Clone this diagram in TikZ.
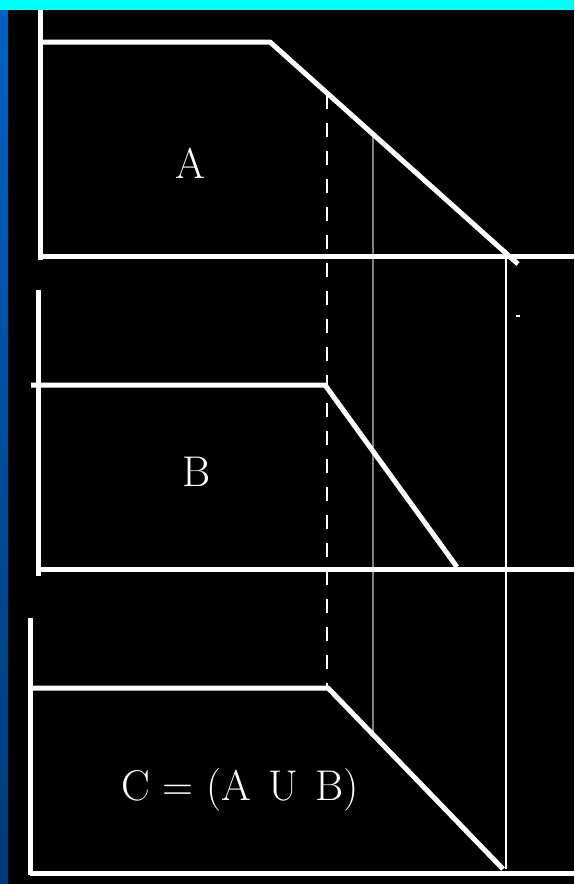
\documentclass[tikz,border=0pt]{standalone}
\usepackage{tikz}
\usetikzlibrary{positioning, calc}
\definecolor{barcyan}{RGB}{0,255,255}
\definecolor{striptop}{RGB}{0,96,192}
\definecolor{stripbottom}{RGB}{0,58,118}
\definecolor{guidegray}{RGB}{128,128,128}
\tikzset{
  axisline/.style={draw=white, line width=5pt},
  curveline/.style={draw=white, line width=5pt, line join=bevel},
  guideline/.style={draw=guidegray, line width=2pt},
  dashguide/.style={draw=white, line width=2pt, dash pattern=on 14pt off 14pt},
  thinguide/.style={draw=white, line width=2pt},
  setlabel/.style={text=white, font=\fontsize{43}{50}\selectfont, inner sep=0pt},
}

\begin{document}
\begin{tikzpicture}[x=1pt, y=-1pt]
  \useasboundingbox (0,0) rectangle (574,884);
  \fill[black] (0,0) rectangle (574,884);
  \fill[barcyan] (0,0) rectangle (574,10);
  \shade[top color=striptop, bottom color=stripbottom] (0,10) rectangle (8,884);

  % set A
  \coordinate (a-top) at (40,10);
  \coordinate (a-low) at (40,260);
  \coordinate (a-origin) at (40,256);
  \coordinate (a-end) at (574,256);
  \coordinate (a-start) at (40,42);
  \coordinate (a-knee) at (270,42);
  \coordinate (a-foot) at (518,264);

  % set B
  \coordinate (b-top) at (38,290);
  \coordinate (b-low) at (38,576);
  \coordinate (b-origin) at (38,569);
  \coordinate (b-end) at (574,569);
  \coordinate (b-start) at (31,385);
  \coordinate (b-knee) at (325,385);
  \coordinate (b-foot) at (457,567);

  % set C
  \coordinate (c-top) at (30,618);
  \coordinate (c-low) at (30,875);
  \coordinate (c-origin) at (30,873);
  \coordinate (c-end) at (574,873);
  \coordinate (c-start) at (30,688);
  \coordinate (c-knee) at (328,688);
  \coordinate (c-foot) at (503,869);

  % guides
  \coordinate (dash-top) at (327,95);
  \coordinate (dash-low) at (327,688);
  \coordinate (gray-top) at (373,134);
  \coordinate (gray-low) at (373,734);
  \coordinate (thin-top) at (506,256);
  \coordinate (thin-low) at (506,869);

  \draw[dashguide] (dash-top) -- (dash-low);
  \draw[guideline] (gray-top) -- (gray-low);
  \draw[thinguide] (thin-top) -- (thin-low);
  \draw[white, line width=1.5pt] (516,316) -- (520,316);

  \draw[axisline] (a-top) -- (a-low);
  \draw[axisline] (a-origin) -- (a-end);
  \draw[curveline] (a-start) -- (a-knee) -- (a-foot);

  \draw[axisline] (b-top) -- (b-low);
  \draw[axisline] (b-origin) -- (b-end);
  \draw[curveline] (b-start) -- (b-knee) -- (b-foot);

  \draw[axisline] (c-top) -- (c-low);
  \draw[axisline] (c-origin) -- (c-end);
  \draw[curveline] (c-start) -- (c-knee) -- (c-foot);

  \node[setlabel] (label-a) at (190,163) {A};
  \node[setlabel] (label-b) at (197,472) {B};
  \node[setlabel] (label-c) at (240,790) {C = (A\hspace{4pt} U\hspace{4pt} B)};
\end{tikzpicture}
\end{document}
